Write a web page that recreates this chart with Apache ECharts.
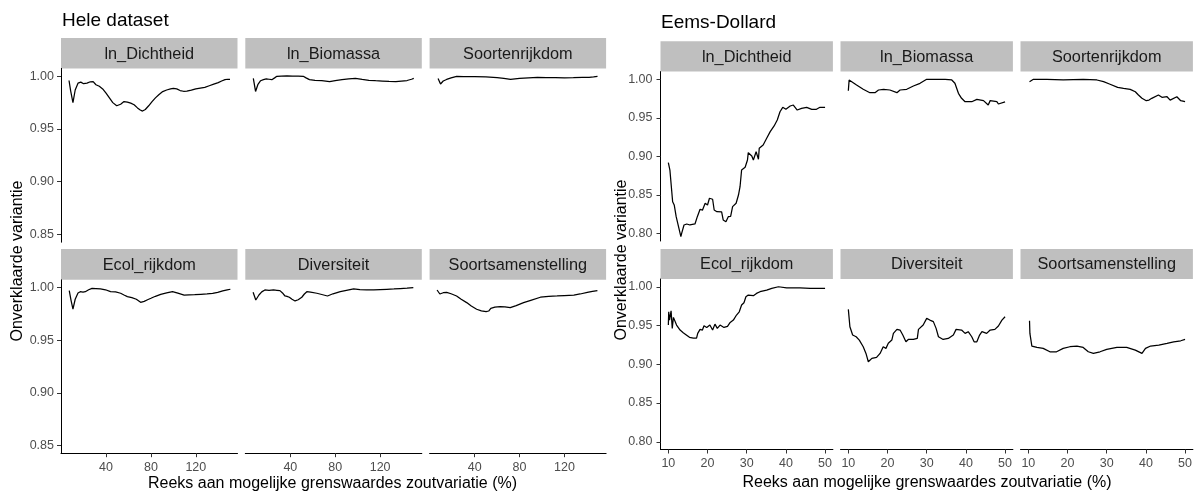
<!DOCTYPE html>
<html>
<head>
<meta charset="utf-8">
<script src="https://cdn.jsdelivr.net/npm/echarts@6.0.0/dist/echarts.min.js"></script>
<style>
html,body{margin:0;padding:0;background:#fff;}
#chart{width:1199px;height:496px;}
</style>
</head>
<body>
<div id="chart"></div>
<script>
// ---------- texts ----------
const titleLeft = 'Hele dataset';
const titleRight = 'Eems-Dollard';
const yTitle = 'Onverklaarde variantie';
const xTitle = 'Reeks aan mogelijke grenswaardes zoutvariatie (%)';
const panelNames = ['ln_Dichtheid', 'ln_Biomassa', 'Soortenrijkdom', 'Ecol_rijkdom', 'Diversiteit', 'Soortsamenstelling'];

// ---------- tick values ----------
const leftXTicks = [40, 80, 120];
const leftYTicks = [0.85, 0.90, 0.95, 1.00];
const rightXTicks = [10, 20, 30, 40, 50];
const rightYTicks = [0.80, 0.85, 0.90, 0.95, 1.00];

// ---------- Hele dataset ----------
const hele_dichtheid_x = [7, 8.5, 10.5, 12.5, 15, 17.5, 20, 23, 26, 28.5, 31, 34, 37, 40, 43, 46, 49.5, 53, 56, 59, 62, 65, 68, 70.5, 72.5, 75, 78, 81, 84, 87, 90.5, 94, 97.5, 100, 103, 106, 109, 112, 116, 120, 124, 128, 132, 136, 140, 143, 146, 148.5, 150.5];
const hele_dichtheid_y = [0.996, 0.986, 0.975, 0.987, 0.9935, 0.9945, 0.993, 0.9935, 0.9948, 0.995, 0.992, 0.9905, 0.988, 0.984, 0.9795, 0.975, 0.972, 0.9735, 0.976, 0.9755, 0.9745, 0.973, 0.970, 0.968, 0.967, 0.9685, 0.972, 0.976, 0.9795, 0.9825, 0.9855, 0.987, 0.988, 0.9885, 0.988, 0.9865, 0.9858, 0.986, 0.9868, 0.988, 0.9888, 0.9895, 0.991, 0.9925, 0.994, 0.9955, 0.9968, 0.9972, 0.9971];

const hele_biomassa_x = [7, 9, 11, 13.5, 16, 18.5, 21, 23.5, 26, 28, 32, 37, 42, 47, 51.5, 54, 57, 62, 68, 75, 80, 86, 92, 98, 104, 110, 116, 122, 128, 134, 139, 144, 148, 150];
const hele_biomassa_y = [0.998, 0.9856, 0.992, 0.9958, 0.9968, 0.9975, 0.9972, 0.9968, 0.9985, 1.000, 1.0002, 1.0003, 1.0001, 1.0002, 1.000, 0.9985, 0.9968, 0.9962, 0.9958, 0.995, 0.996, 0.9968, 0.9975, 0.998, 0.997, 0.9962, 0.9958, 0.9955, 0.9952, 0.995, 0.9955, 0.996, 0.9972, 0.998];

const hele_soortenrijkdom_x = [7.4, 9.6, 12, 15, 19, 24, 30, 40, 50, 60, 66, 72, 80, 88, 96, 104, 112, 120, 128, 136, 142, 146, 149.5];
const hele_soortenrijkdom_y = [0.998, 0.9927, 0.9955, 0.997, 0.9985, 1.000, 0.9998, 0.9997, 0.9995, 0.9988, 0.998, 0.997, 0.998, 0.9986, 0.999, 0.9988, 0.9987, 0.9986, 0.9987, 0.999, 0.999, 0.9995, 1.000];

const hele_ecol_x = [7.2, 8.8, 10.5, 12.5, 15, 17, 19.5, 21.5, 24.5, 27.5, 31, 35, 39.5, 44, 48.5, 53, 56, 59, 63, 67, 70.8, 74, 77, 80, 84, 88.7, 94, 99.2, 104, 109.6, 114, 119, 124.5, 130, 135, 139.5, 144, 148, 150.8];
const hele_ecol_y = [0.9972, 0.988, 0.9797, 0.989, 0.995, 0.9962, 0.9958, 0.9962, 0.998, 0.9994, 0.9992, 0.9988, 0.998, 0.9962, 0.996, 0.9947, 0.993, 0.9915, 0.9905, 0.989, 0.9861, 0.987, 0.9885, 0.9899, 0.9918, 0.9937, 0.995, 0.9962, 0.9948, 0.993, 0.9932, 0.9934, 0.9937, 0.994, 0.9945, 0.9956, 0.997, 0.998, 0.9985];

const hele_diversiteit_x = [6.8, 9.2, 12, 14.5, 17.3, 21, 25, 28, 30.7, 33, 35.2, 37, 39.1, 41.5, 44.2, 47, 50.2, 52.5, 54.7, 58, 63.6, 68, 73.1, 78, 84.5, 90, 96.4, 102, 108, 114.3, 120, 126, 132.3, 138, 144, 149.6];
const hele_diversiteit_y = [0.9956, 0.9883, 0.993, 0.996, 0.9978, 0.9975, 0.9978, 0.9975, 0.9972, 0.995, 0.9921, 0.9918, 0.9909, 0.989, 0.9874, 0.9885, 0.9909, 0.994, 0.9962, 0.9958, 0.9947, 0.9935, 0.9921, 0.9942, 0.9962, 0.9975, 0.9988, 0.9982, 0.998, 0.9978, 0.9982, 0.9985, 0.9988, 0.9992, 0.9996, 1.000];

const hele_samenstelling_x = [6.5, 9, 12, 15, 19, 23.9, 28, 32.9, 37, 41.8, 46, 50.2, 52.5, 54.4, 58, 62.7, 67, 71.7, 77, 83.6, 90, 98.6, 106, 113.5, 120, 128.4, 134, 140.4, 145, 149.4];
const hele_samenstelling_y = [0.9978, 0.994, 0.9952, 0.9956, 0.9942, 0.9921, 0.989, 0.9858, 0.9825, 0.9795, 0.978, 0.9772, 0.9778, 0.9804, 0.9815, 0.982, 0.9818, 0.981, 0.983, 0.9858, 0.988, 0.9909, 0.9918, 0.9921, 0.9925, 0.993, 0.994, 0.9955, 0.9965, 0.9972];

// ---------- Eems-Dollard ----------
const ed_dichtheid_x = [10, 10.4, 11.1, 11.5, 12.0, 12.6, 13.2, 13.4, 14, 14.7, 15.5, 16.8, 17.4, 18.1, 18.7, 19.4, 20, 20.5, 21.3, 21.7, 22.4, 23.6, 24, 24.7, 25.3, 25.9, 26.4, 27.3, 27.9, 28.3, 28.7, 29.6, 30.2, 30.4, 31.3, 31.7, 32.4, 33, 33.2, 34.2, 35.1, 36, 37, 37.8, 38.5, 39.2, 40, 41.1, 41.9, 42.9, 44, 45.3, 46.6, 47.8, 48.7, 50];
const ed_dichtheid_y = [0.8917, 0.8822, 0.841, 0.8368, 0.8216, 0.8086, 0.7956, 0.800, 0.8108, 0.8121, 0.8108, 0.8121, 0.8216, 0.8312, 0.830, 0.839, 0.8368, 0.8455, 0.8442, 0.8303, 0.828, 0.8277, 0.8173, 0.815, 0.8216, 0.822, 0.8346, 0.839, 0.8497, 0.8605, 0.8822, 0.8857, 0.8952, 0.9047, 0.9004, 0.8952, 0.906, 0.8961, 0.9104, 0.9147, 0.9234, 0.932, 0.9394, 0.9471, 0.9579, 0.9636, 0.961, 0.9653, 0.9666, 0.9601, 0.9623, 0.9636, 0.961, 0.961, 0.9636, 0.9636];

const ed_biomassa_x = [10, 10.2, 10.6, 12.1, 13.8, 15.5, 16.8, 17.7, 19.0, 20.6, 22.4, 23.2, 24.9, 26.6, 28.3, 30, 31.7, 34.7, 36.4, 37.2, 38.1, 38.9, 39.8, 41.5, 42.8, 44.5, 45.7, 46.2, 47.9, 48.3, 50];
const ed_biomassa_y = [0.9852, 0.9991, 0.9978, 0.9926, 0.987, 0.9826, 0.9826, 0.9861, 0.987, 0.9861, 0.9826, 0.9861, 0.987, 0.9913, 0.9948, 1.000, 1.000, 1.000, 0.9991, 0.9948, 0.9818, 0.9753, 0.9709, 0.9709, 0.974, 0.9723, 0.9666, 0.9723, 0.9709, 0.9679, 0.9706];

const ed_soortenrijkdom_x = [10.3, 11.3, 14.7, 18.9, 24, 27.5, 29.2, 30.7, 31.2, 32.8, 34.3, 36.0, 37.3, 38.1, 39, 40.1, 40.8, 41.5, 43.2, 44.1, 45.4, 46.2, 47.9, 48.9, 50];
const ed_soortenrijkdom_y = [0.9969, 1.000, 1.000, 0.9991, 1.000, 0.9991, 0.9969, 0.9939, 0.9956, 0.9896, 0.9883, 0.987, 0.9839, 0.9796, 0.9753, 0.9722, 0.973, 0.9753, 0.9796, 0.9766, 0.9774, 0.973, 0.9774, 0.9722, 0.9709];

const ed_ecol_x = [10, 10.1, 10.3, 10.7, 11.0, 11.3, 11.7, 12.1, 13, 13.8, 14.5, 15.4, 16.4, 17.2, 17.5, 18.1, 18.7, 19.1, 19.8, 20.6, 21.3, 21.9, 22.5, 23.2, 24.2, 25.1, 25.7, 26.6, 27.4, 28.1, 28.7, 29.3, 29.8, 30.4, 31.7, 32.5, 33.4, 35.1, 36.4, 38.1, 40.2, 43.6, 46.2, 50];
const ed_ecol_y = [0.9506, 0.9677, 0.957, 0.969, 0.9463, 0.9605, 0.9596, 0.9506, 0.9441, 0.9407, 0.9381, 0.9347, 0.9338, 0.9338, 0.9398, 0.945, 0.9441, 0.9497, 0.9475, 0.9506, 0.9441, 0.9518, 0.9463, 0.9506, 0.9475, 0.9489, 0.9535, 0.957, 0.9635, 0.9677, 0.9764, 0.9794, 0.9871, 0.9893, 0.9884, 0.9914, 0.9936, 0.9957, 0.9979, 1.000, 0.9987, 0.9987, 0.9979, 0.9979];

const ed_diversiteit_x = [10, 10.4, 11.1, 12, 12.8, 13.8, 14.5, 15.1, 16, 17.2, 18.1, 18.9, 19.6, 20.2, 21.1, 21.5, 22.4, 23.2, 23.9, 24.7, 25.3, 26.6, 27.6, 27.9, 29.1, 30, 30.8, 31.7, 32.4, 33, 34.2, 35.5, 36.8, 37.5, 38.9, 39.8, 40.6, 41.5, 42.1, 42.8, 43.5, 44.1, 45.3, 46.2, 47.4, 48.3, 49.2, 50];
const ed_diversiteit_y = [0.9708, 0.9484, 0.9377, 0.9355, 0.9312, 0.9226, 0.914, 0.9032, 0.9076, 0.9088, 0.914, 0.9226, 0.9205, 0.927, 0.9312, 0.9398, 0.945, 0.9441, 0.9377, 0.929, 0.932, 0.932, 0.9333, 0.945, 0.9506, 0.9592, 0.957, 0.955, 0.9463, 0.9355, 0.932, 0.9333, 0.9377, 0.945, 0.9441, 0.9398, 0.942, 0.9355, 0.929, 0.929, 0.9377, 0.942, 0.9398, 0.9441, 0.945, 0.9493, 0.957, 0.9613];

const ed_samenstelling_x = [10.3, 10.4, 10.9, 12.2, 13.8, 15.5, 17.2, 18.9, 20.6, 22.4, 24, 25.3, 26.6, 28.3, 30, 32.6, 35.1, 37.3, 39, 39.9, 41.2, 43.3, 45.4, 47.1, 48.9, 50];
const ed_samenstelling_y = [0.9561, 0.9398, 0.9235, 0.9217, 0.9205, 0.9161, 0.9161, 0.9205, 0.9226, 0.9235, 0.9217, 0.9161, 0.914, 0.9161, 0.9191, 0.9217, 0.9217, 0.9183, 0.914, 0.9205, 0.9235, 0.9247, 0.9269, 0.929, 0.9303, 0.932];

const heleSeries = [
  [hele_dichtheid_x, hele_dichtheid_y],
  [hele_biomassa_x, hele_biomassa_y],
  [hele_soortenrijkdom_x, hele_soortenrijkdom_y],
  [hele_ecol_x, hele_ecol_y],
  [hele_diversiteit_x, hele_diversiteit_y],
  [hele_samenstelling_x, hele_samenstelling_y]
];
const edSeries = [
  [ed_dichtheid_x, ed_dichtheid_y],
  [ed_biomassa_x, ed_biomassa_y],
  [ed_soortenrijkdom_x, ed_soortenrijkdom_y],
  [ed_ecol_x, ed_ecol_y],
  [ed_diversiteit_x, ed_diversiteit_y],
  [ed_samenstelling_x, ed_samenstelling_y]
];

// ---------- layout ----------
const FONT = '"Liberation Sans", Arial, sans-serif';
const STRIP_FILL = '#BFBFBF';
const blocks = [
  { // Hele dataset
    lefts: [61, 245.3, 429.6], width: 176.5,
    rows: [{top: 68.4, height: 173.8, stripTop: 38}, {top: 279.8, height: 173.4, stripTop: 249}],
    xMin: -0.15, xMax: 157.15, yMin: 0.8425, yMax: 1.0075,
    xTicks: leftXTicks, yTicks: leftYTicks, series: heleSeries,
    labelMarginY: 7, labelMarginX: 8
  },
  { // Eems-Dollard
    lefts: [660.5, 840.5, 1020.5], width: 172.4,
    rows: [{top: 71.6, height: 169.4, stripTop: 41.3}, {top: 279, height: 170.5, stripTop: 249}],
    xMin: 8, xMax: 52, yMin: 0.79, yMax: 1.01,
    xTicks: rightXTicks, yTicks: rightYTicks, series: edSeries,
    labelMarginY: 8, labelMarginX: 7.5
  }
];

const grid = [], xAxis = [], yAxis = [], series = [], graphic = [];
blocks.forEach((b) => {
  for (let r = 0; r < 2; r++) {
    for (let c = 0; c < 3; c++) {
      const idx = grid.length;
      const row = b.rows[r];
      grid.push({left: b.lefts[c], top: row.top, width: b.width, height: row.height, containLabel: false});
      const showX = r === 1;
      const showY = c === 0;
      xAxis.push({
        gridIndex: idx, type: 'value', min: b.xMin, max: b.xMax, show: showX,
        axisLine: {show: true, onZero: false, lineStyle: {color: '#000', width: 1}},
        axisTick: {show: true, length: 4, customValues: b.xTicks, lineStyle: {color: '#333', width: 1}},
        axisLabel: {show: true, customValues: b.xTicks, margin: b.labelMarginX, color: '#4D4D4D', fontSize: 12.5, fontFamily: FONT},
        splitLine: {show: false}
      });
      yAxis.push({
        gridIndex: idx, type: 'value', min: b.yMin, max: b.yMax, show: showY,
        axisLine: {show: true, onZero: false, lineStyle: {color: '#000', width: 1}},
        axisTick: {show: true, length: 4, customValues: b.yTicks, lineStyle: {color: '#333', width: 1}},
        axisLabel: {show: true, customValues: b.yTicks, margin: b.labelMarginY, color: '#4D4D4D', fontSize: 12.5, fontFamily: FONT,
          formatter: (v) => Number(v).toFixed(2)},
        splitLine: {show: false}
      });
      const p = r * 3 + c;
      const xs = b.series[p][0], ys = b.series[p][1];
      series.push({
        type: 'line', xAxisIndex: idx, yAxisIndex: idx, showSymbol: false, symbol: 'none',
        data: xs.map((x, i) => [x, ys[i]]),
        lineStyle: {color: '#000', width: 1.25}, silent: true, animation: false
      });
      // strip
      const sh = row.top - row.stripTop;
      graphic.push({type: 'rect', shape: {x: b.lefts[c], y: row.stripTop, width: b.width, height: sh},
        style: {fill: STRIP_FILL}, silent: true});
      graphic.push({type: 'text', x: b.lefts[c] + b.width / 2, y: row.stripTop + sh / 2 + 1,
        style: {text: panelNames[p], fill: '#1A1A1A', font: '16.3px ' + FONT, textAlign: 'center', textVerticalAlign: 'middle'}, silent: true});
    }
  }
});

// titles
graphic.push({type: 'text', x: 62, y: 20.5, style: {text: titleLeft, fill: '#000', font: '19px ' + FONT, textAlign: 'left', textVerticalAlign: 'middle'}});
graphic.push({type: 'text', x: 661, y: 23, style: {text: titleRight, fill: '#000', font: '19px ' + FONT, textAlign: 'left', textVerticalAlign: 'middle'}});
// x titles
graphic.push({type: 'text', x: 332.5, y: 484, style: {text: xTitle, fill: '#000', font: '16px ' + FONT, textAlign: 'center', textVerticalAlign: 'middle'}});
graphic.push({type: 'text', x: 927, y: 483, style: {text: xTitle, fill: '#000', font: '16px ' + FONT, textAlign: 'center', textVerticalAlign: 'middle'}});
// y titles
graphic.push({type: 'text', x: 18, y: 261, rotation: Math.PI / 2, style: {text: yTitle, fill: '#000', font: '16px ' + FONT, textAlign: 'center', textVerticalAlign: 'middle'}});
graphic.push({type: 'text', x: 622, y: 260, rotation: Math.PI / 2, style: {text: yTitle, fill: '#000', font: '16px ' + FONT, textAlign: 'center', textVerticalAlign: 'middle'}});
// the reference image crops the left part of the right-hand y title
graphic.push({type: 'rect', shape: {x: 607, y: 160, width: 7, height: 200}, style: {fill: '#fff'}, z: 100});

const chart = echarts.init(document.getElementById('chart'), null, {renderer: 'canvas'});
chart.setOption({
  animation: false,
  backgroundColor: '#fff',
  grid, xAxis, yAxis, series, graphic
});
</script>
</body>
</html>
